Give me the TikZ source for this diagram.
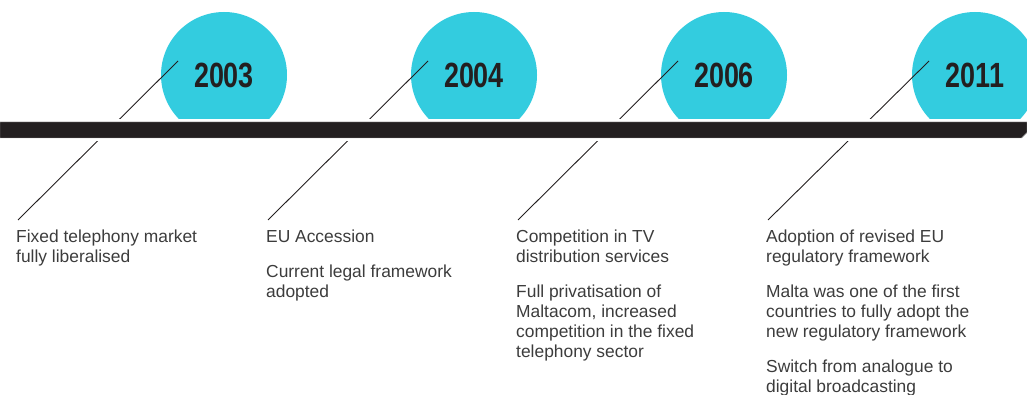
\documentclass[tikz,border=0pt]{standalone}
\usepackage{fontspec}
\setmainfont{Liberation Sans}
\newfontfamily\yearfont[FakeStretch=0.77]{Liberation Sans}
\definecolor{cyanc}{HTML}{33CCDF}
\definecolor{barc}{HTML}{231F20}
\definecolor{txtc}{HTML}{3C3C3C}
\tikzset{
  yearcirc/.style={circle,fill=cyanc,minimum size=126pt,inner sep=0pt,text=barc,font=\yearfont\bfseries\fontsize{35}{35}\selectfont},
  desc/.style={anchor=north west,inner sep=0pt,align=left,text=txtc,font=\fontsize{17.4}{20}\selectfont},
  leader/.style={draw=barc,line width=0.9pt}
}
\begin{document}
\begin{tikzpicture}[x=1pt,y=-1pt]
\useasboundingbox (0,0) rectangle (1027,395);
\begin{scope}
\clip (0,0) rectangle (1027,395);
% circles
\node[yearcirc] (c1) at (224,75) {2003};
\node[yearcirc] (c2) at (474,75) {2004};
\node[yearcirc] (c3) at (724,75) {2006};
\node[yearcirc] (c4) at (975,75) {2011};
\end{scope}
% leader start coordinates
\foreach \i/\x in {1/178,2/428,3/678,4/929}{
  \coordinate (s\i) at (\x,61);
}
% texts
\node[desc] (t1) at (16,229.3) {Fixed telephony market\\fully liberalised};
\node[desc] (t2) at (266,229.3) {EU Accession\\[15pt]Current legal framework\\adopted};
\node[desc] (t3) at (516,229.3) {Competition in TV\\distribution services\\[15pt]Full privatisation of\\Maltacom, increased\\competition in the fixed\\telephony sector};
\node[desc] (t4) at (766,229.3) {Adoption of revised EU\\regulatory framework\\[15pt]Malta was one of the first\\countries to fully adopt the\\new regulatory framework\\[15pt]Switch from analogue to\\digital broadcasting};
% leader end coordinates
\foreach \i/\x in {1/18,2/268,3/518,4/768}{
  \coordinate (e\i) at (\x,220);
}
\foreach \i in {1,...,4}{
  \draw[leader] (s\i) -- (e\i);
}
% bar with white gap
\fill[white] (0,119) rectangle (1027,141);
\path[fill=barc,draw=gray!70,line width=0.4pt] (0,122) -- (1027,122) -- (1027,132.5) -- (1021.5,138) -- (0,138) -- cycle;
\end{tikzpicture}
\end{document}
